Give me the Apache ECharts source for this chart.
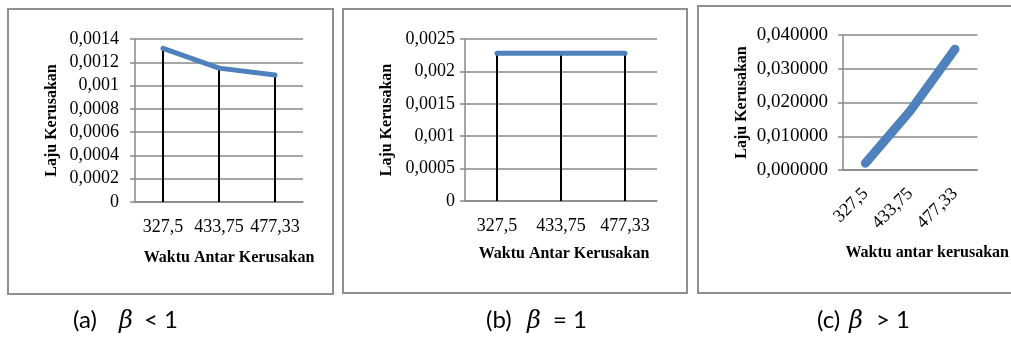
<!DOCTYPE html>
<html>
<head>
<meta charset="utf-8">
<script src="https://cdn.jsdelivr.net/npm/echarts@6/dist/echarts.min.js"></script>
<style>
html,body{margin:0;padding:0;background:#fff;}
#c{width:1011px;height:338px;}
</style>
</head>
<body>
<div id="c"></div>
<script>
// ---- data ----
const categories = ['327,5', '433,75', '477,33'];
const valuesA = [0.00132, 0.00115, 0.00109];
const valuesB = [0.00228, 0.00228, 0.00228];
const valuesC = [0.0020, 0.0175, 0.0358];
const yTicksA = ['0', '0,0002', '0,0004', '0,0006', '0,0008', '0,001', '0,0012', '0,0014'];
const yTicksB = ['0', '0,0005', '0,001', '0,0015', '0,002', '0,0025'];
const yTicksC = ['0,000000', '0,010000', '0,020000', '0,030000', '0,040000'];
const yNames = ['Laju Kerusakan', 'Laju Kerusakan', 'Laju Kerusakan'];
const xNames = ['Waktu Antar Kerusakan', 'Waktu Antar Kerusakan', 'Waktu antar kerusakan'];
const captionLabels = ['(a)', '(b)', '(c)'];
const captionSymbol = 'β';
const captionRests = ['< 1', '= 1', '> 1'];

// ---- styles ----
const SERIF = '"Liberation Serif", "Times New Roman", serif';
const SANS = 'Lato, "Open Sans", sans-serif';
const GRID = '#898989';
const BLUE = '#4F81BD';
const intervals = [0.0002, 0.0005, 0.01];
const maxes = [0.0014, 0.0025, 0.04];
const tickArrays = [yTicksA, yTicksB, yTicksC];

const grids = [
  {left: 135, top: 39, width: 168, height: 163},
  {left: 465, top: 39, width: 192, height: 162},
  {left: 843, top: 35, width: 149, height: 135}
];

const xAxisCfg = [
  {labelMargin: 16, rotate: 0, nameGap: 48, padding: [0, 0, 0, 20], fs: 18},
  {labelMargin: 16, rotate: 0, nameGap: 45, padding: [0, 0, 0, 6], fs: 18},
  {labelMargin: 21, rotate: 45, nameGap: 75, padding: [0, 0, 0, 34], fs: 18}
];
const yAxisCfg = [
  {labelMargin: 16, nameGap: 75, fs: 18},
  {labelMargin: 10, nameGap: 70, fs: 18},
  {labelMargin: 15, nameGap: 93, fs: 19}
];

const xAxes = grids.map((g, i) => ({
  type: 'category',
  gridIndex: i,
  data: categories,
  boundaryGap: true,
  axisLine: {show: true, lineStyle: {color: GRID, width: 1.5}},
  axisTick: {show: false},
  axisLabel: {
    interval: 0,
    margin: xAxisCfg[i].labelMargin,
    rotate: xAxisCfg[i].rotate,
    color: '#000',
    fontFamily: SERIF,
    fontSize: xAxisCfg[i].fs
  },
  name: xNames[i],
  nameLocation: 'middle',
  nameGap: xAxisCfg[i].nameGap,
  nameTextStyle: {
    color: '#000', fontFamily: SERIF, fontSize: 16, fontWeight: 'bold',
    padding: xAxisCfg[i].padding
  },
  splitLine: {show: false}
}));

const yAxes = grids.map((g, i) => ({
  type: 'value',
  gridIndex: i,
  min: 0,
  max: maxes[i],
  interval: intervals[i],
  axisLine: {show: true, lineStyle: {color: GRID, width: 1.5}},
  axisTick: {show: true, length: 5, lineStyle: {color: GRID, width: 1.5}},
  splitLine: {show: true, lineStyle: {color: GRID, width: 1.5}},
  axisLabel: {
    margin: yAxisCfg[i].labelMargin,
    color: '#000',
    fontFamily: SERIF,
    fontSize: yAxisCfg[i].fs,
    formatter: v => tickArrays[i][Math.round(v / intervals[i])]
  },
  name: yNames[i],
  nameLocation: 'middle',
  nameGap: yAxisCfg[i].nameGap,
  nameRotate: 90,
  nameTextStyle: {color: '#000', fontFamily: SERIF, fontSize: 16, fontWeight: 'bold'}
}));

const lineWidths = [5, 5, 9];
const valueSets = [valuesA, valuesB, valuesC];
const series = [];
// drop lines (a) and (b)
[0, 1].forEach(i => {
  series.push({
    type: 'bar',
    xAxisIndex: i, yAxisIndex: i,
    data: valueSets[i],
    barWidth: 2,
    itemStyle: {color: '#000'},
    silent: true,
    z: 2
  });
});
valueSets.forEach((vals, i) => {
  series.push({
    type: 'line',
    xAxisIndex: i, yAxisIndex: i,
    data: vals,
    symbol: 'none',
    smooth: false,
    lineStyle: {color: BLUE, width: lineWidths[i], cap: 'round', join: 'round'},
    silent: true,
    z: 3
  });
});

const borders = [
  {x: 8, y: 9, w: 325, h: 285},
  {x: 343, y: 9, w: 344, h: 284},
  {x: 698, y: 6, w: 330, h: 287}
];
// caption piece positions: [label x, beta x, rest x]
const capX = [[73, 119, 144], [486, 527, 553], [817, 849, 876]];
const capTop = 308;

const graphic = [];
borders.forEach(b => graphic.push({
  type: 'rect', shape: {x: b.x, y: b.y, width: b.w, height: b.h},
  style: {fill: 'none', stroke: '#8f8f8f', lineWidth: 2}, silent: true, z: -1
}));
captionLabels.forEach((lab, i) => {
  graphic.push({
    type: 'text', x: capX[i][0], y: capTop,
    style: {text: lab, fontFamily: SANS, fontSize: 24, fill: '#000'}, silent: true
  });
  graphic.push({
    type: 'text', x: capX[i][1], y: capTop + 2,
    style: {text: captionSymbol, fontFamily: '"DejaVu Serif", serif', fontStyle: 'italic', fontSize: 24, fill: '#000'}, silent: true
  });
  graphic.push({
    type: 'text', x: capX[i][2], y: capTop,
    style: {text: captionRests[i], fontFamily: SANS, fontSize: 24, fill: '#000'}, silent: true
  });
});

const chart = echarts.init(document.getElementById('c'), null, {renderer: 'canvas'});
chart.setOption({
  backgroundColor: '#fff',
  animation: false,
  grid: grids,
  xAxis: xAxes,
  yAxis: yAxes,
  series: series,
  graphic: graphic
});
</script>
</body>
</html>
